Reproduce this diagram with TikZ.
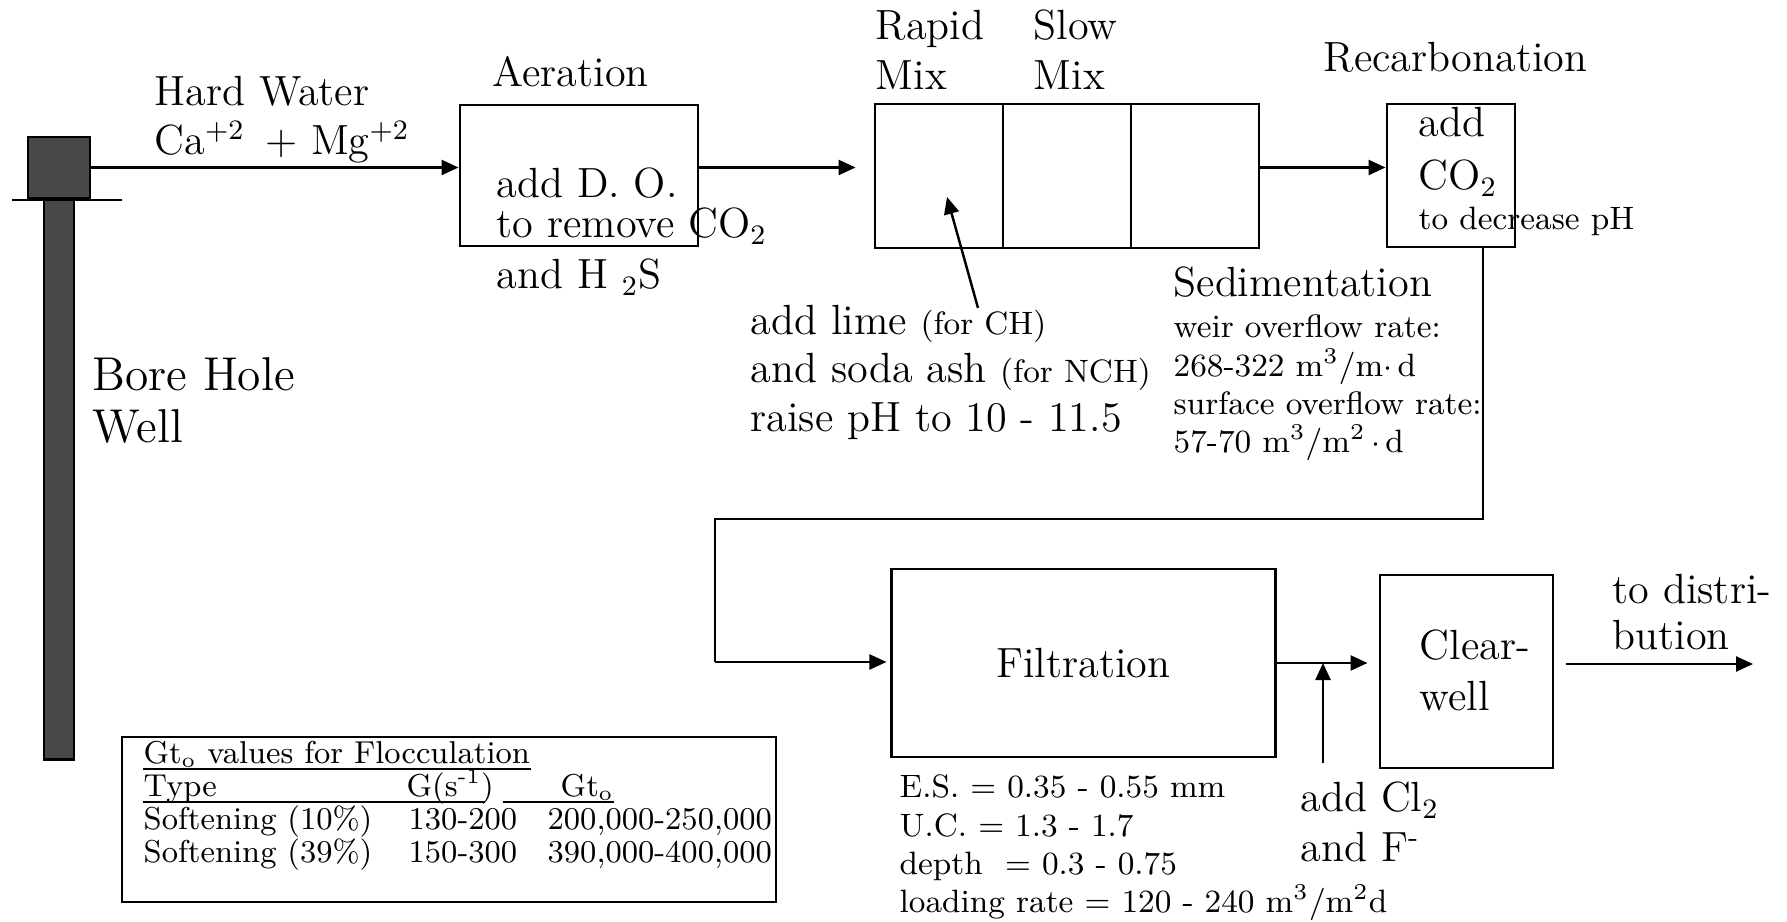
\documentclass[tikz,border=0pt]{standalone}
\usepackage{tikz}
\usetikzlibrary{arrows.meta,positioning,calc}
\definecolor{wellgray}{RGB}{72,72,72}
\newcommand{\smallnote}[1]{{\fontsize{9.2}{11}\selectfont #1}}
\tikzset{
	unit/.style={draw,line width=0.8pt,inner sep=0pt},
	flow/.style={line width=0.7pt,-{Triangle[length=1.7mm,width=1.5mm]}},
	pipe/.style={line width=0.7pt},
	lbl/.style={inner sep=0pt,anchor=base west,font=\fontsize{12}{14}\selectfont},
	note/.style={lbl,font=\fontsize{9.2}{11}\selectfont},
	tab/.style={lbl,font=\fontsize{9}{10}\selectfont},
}

\begin{document}
\begin{tikzpicture}[x=0.01cm,y=-0.01cm]
	\useasboundingbox (0,0) rectangle (1787,922);
	% bore hole well
	\node[unit,fill=wellgray,minimum width=0.30cm,minimum height=5.59cm] (shaft) at (59,479.5) {};
	\node[unit,fill=wellgray,minimum width=0.62cm,minimum height=0.61cm] (head) at (59,167.5) {};
	\draw[pipe] (12,200) -- (122,200);
	\node[lbl,font=\fontsize{13.5}{16}\selectfont] (bore) at (92,391) {Bore Hole};
	\node[lbl,font=\fontsize{13.5}{16}\selectfont] (boreb) at (92,443) {Well};
	% process units
	\node[unit,minimum width=2.38cm,minimum height=1.41cm] (aer) at (579,175.5) {};
	\node[unit,minimum width=1.28cm,minimum height=1.44cm] (rm) at (939,176) {};
	\node[unit,minimum width=1.28cm,minimum height=1.44cm] (sm) at (1067,176) {};
	\node[unit,minimum width=1.28cm,minimum height=1.44cm] (sd) at (1195,176) {};
	\node[unit,minimum width=1.28cm,minimum height=1.43cm] (rec) at (1451,175.5) {};
	\node[unit,minimum width=3.83cm,minimum height=1.88cm,font=\fontsize{12}{14}\selectfont] (filt) at (1083.5,663) {Filtration};
	\node[unit,minimum width=1.73cm,minimum height=1.93cm] (cw) at (1466.5,671.5) {};
	% connectors
	\draw[flow] (head.east) -- (head.east -| aer.west);
	\draw[flow,shorten >=0.18cm] (aer.east |- head.east) -- (head.east -| rm.west);
	\draw[flow] (sd.east |- head.east) -- (head.east -| rec.west);
	\coordinate (p1) at (1483,519);
	\coordinate (p2) at (715,519);
	\coordinate (p3) at (715,662);
	\draw[pipe] (rec.south -| p1) -- (p1) -- (p2) -- (p3);
	\draw[flow,shorten >=0.04cm] (p3) -- (filt.west |- p3);
	\draw[flow,shorten >=0.11cm] (filt.east) -- (filt.east -| cw.west);
	\coordinate (dist) at (1753,664);
	\draw[flow,shorten <=0.12cm] (cw.east |- dist) -- (dist);
	\coordinate (cl) at (1323,763);
	\draw[flow] (cl) -- (cl |- filt.east);
	\coordinate (lime) at (978,308);
	\draw[flow] (lime) -- ($(rm.center)+(8,21)$);
	% labels
	\node[lbl] (hw) at (154,106) {Hard Water};
	\node[lbl] (ions) at (154,155) {Ca\textsuperscript{+2}\hspace{0.2cm}+ Mg\textsuperscript{+2}};
	\node[lbl] (aert) at (492,87) {Aeration};
	\node[lbl] (aer1) at (496,198) {add D. O.};
	\node[lbl] (aer2) at (496,238) {to remove CO\textsubscript{2}};
	\node[lbl] (aer3) at (496,289) {and H \textsubscript{2}S};
	\node[lbl] (rmt) at (875,40) {Rapid};
	\node[lbl] (rmb) at (875,90) {Mix};
	\node[lbl] (smt) at (1033,40) {Slow};
	\node[lbl] (smb) at (1033,90) {Mix};
	\node[lbl] (rect) at (1323,72) {Recarbonation};
	\node[lbl] (rec1) at (1418,137) {add};
	\node[lbl] (rec2) at (1418,190) {CO\textsubscript{2}};
	\node[note] (rec3) at (1418,230) {to decrease pH};
	\node[lbl] (sdt) at (1173,297) {Sedimentation};
	\node[note] (sd1) at (1173,338) {weir overflow rate:};
	\node[note] (sd2) at (1173,377) {268-322 m\textsuperscript{3}/m$\cdot$\,d};
	\node[note] (sd3) at (1173,415) {surface overflow rate:};
	\node[note] (sd4) at (1173,453) {57-70 m\textsuperscript{3}/m\textsuperscript{2}\,$\cdot$\,d};
	\node[lbl] (lime1) at (750,335) {add lime \smallnote{(for CH)}};
	\node[lbl] (lime2) at (750,383) {and soda ash \smallnote{(for NCH)}};
	\node[lbl] (lime3) at (750,432) {raise pH to 10 - 11.5};
	\node[note] (fl1) at (899,798) {E.S. = 0.35 - 0.55 mm};
	\node[note] (fl2) at (899,837) {U.C. = 1.3 - 1.7};
	\node[note] (fl3) at (899,875) {depth~ = 0.3 - 0.75};
	\node[note] (fl4) at (899,913) {loading rate = 120 - 240 m\textsuperscript{3}/m\textsuperscript{2}d};
	\node[lbl] (cl1) at (1300,812) {add Cl\textsubscript{2}};
	\node[lbl] (cl2) at (1300,862) {and F\textsuperscript{-}};
	\node[lbl] (cw1) at (1419,660) {Clear-};
	\node[lbl] (cw2) at (1419,711) {well};
	\node[lbl] (ds1) at (1612,604) {to distri-};
	\node[lbl] (ds2) at (1612,650) {bution};
	% Gt table
	\node[draw,line width=0.7pt,minimum width=6.54cm,minimum height=1.65cm,inner sep=0pt] (gtbox) at (449,819.5) {};
	\node[tab] (gt1) at (143,764) {Gt\textsubscript{o} values for Flocculation};
	\node[tab] (ty) at (143,797) {Type};
	\node[tab] (gs) at (406,797) {G(s\textsuperscript{-1})};
	\node[tab] (gto) at (560,797) {Gt\textsubscript{o}};
	\node[tab] (r1a) at (143,830) {Softening (10\%)};
	\node[tab] (r1b) at (408,830) {130-200};
	\node[tab] (r1c) at (547,830) {200,000-250,000};
	\node[tab] (r2a) at (143,863) {Softening (39\%)};
	\node[tab] (r2b) at (408,863) {150-300};
	\node[tab] (r2c) at (547,863) {390,000-400,000};
	\draw[line width=0.5pt] ([yshift=-1.5pt]gt1.base west) -- ([yshift=-1.5pt]gt1.base east);
	\draw[line width=0.5pt] ([yshift=-1.5pt]ty.base west) -- ([yshift=-1.5pt,xshift=-0.1cm]gs.base east);
	\draw[line width=0.5pt] ([yshift=-1.5pt,xshift=0.08cm]gs.base east) -- ([yshift=-1.5pt]gto.base east);
\end{tikzpicture}
\end{document}
